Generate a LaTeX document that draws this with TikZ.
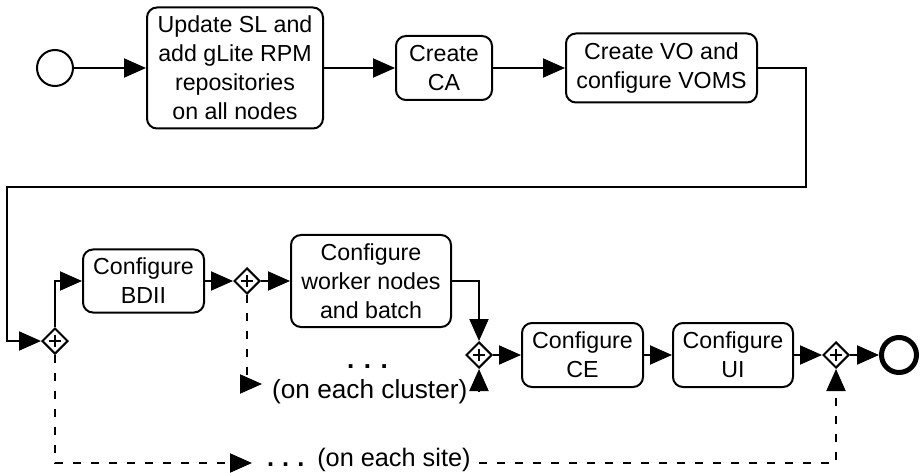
\documentclass[tikz,border=0pt]{standalone}
\usepackage{fontspec}
\setmainfont{Liberation Sans}
\usetikzlibrary{arrows.meta,shapes.geometric}

\tikzset{
  task/.style={draw, line width=2pt, rounded corners=10pt, align=center,
    inner sep=0pt, font=\fontsize{23.2}{29}\selectfont},
  gate/.style={draw, diamond, line width=2pt, minimum size=26pt, inner sep=0pt,
    path picture={\draw[line width=1.2pt]
      (path picture bounding box.center) ++(-6pt,0pt) -- ++(12pt,0pt)
      (path picture bounding box.center) ++(0pt,-6pt) -- ++(0pt,12pt);}},
  startev/.style={draw, circle, line width=2pt, minimum size=36pt, inner sep=0pt},
  endev/.style={draw, circle, line width=5pt, minimum size=35pt, inner sep=0pt},
  flow/.style={line width=2pt, -{Triangle[length=22pt,width=19pt]}},
  cond/.style={flow, dash pattern=on 8pt off 10pt},
  lbl/.style={inner sep=0pt},
}

\begin{document}
\begin{tikzpicture}[x=1pt,y=-1pt]
  \useasboundingbox (0,0) rectangle (921,473);

  % top row
  \node[startev] (start) at (55,68) {};
  \node[task, minimum width=176pt, minimum height=121pt] (upd) at (235,68)
    {Update SL and\\add gLite RPM\\repositories\\on all nodes};
  \node[task, minimum width=96pt, minimum height=64pt] (ca) at (444,68)
    {Create\\CA};
  \node[task, minimum width=191pt, minimum height=69pt] (voms) at (661.5,68)
    {Create VO and\\configure VOMS};

  % bottom row
  \node[gate] (g1) at (55,341) {};
  \node[task, minimum width=121pt, minimum height=63pt] (bdii) at (143.5,281)
    {Configure\\BDII};
  \node[gate] (g2) at (247,281) {};
  \node[task, minimum width=160pt, minimum height=92pt] (wn) at (371,281)
    {Configure\\worker nodes\\and batch};
  \node[gate] (g3) at (479,355) {};
  \node[task, minimum width=121pt, minimum height=64pt] (ce) at (582.5,355)
    {Configure\\CE};
  \node[task, minimum width=120pt, minimum height=64pt] (ui) at (733,355)
    {Configure\\UI};
  \node[gate] (g4) at (836,355) {};
  \node[endev] (stop) at (899,355) {};

  % labels of the repeated branches
  \node[lbl, font=\fontsize{26}{30}\bfseries] (cdots) at (367.5,367)
    {.\hspace{9.5pt}.\hspace{9.5pt}.};
  \node[lbl, anchor=west, font=\fontsize{26.2}{30}\selectfont] (clbl) at (272,392)
    {(on each cluster)};
  \node[lbl, anchor=west, font=\fontsize{25.3}{30}\selectfont] (slbl) at (267,460)
    {\textbf{.\hspace{8pt}.\hspace{8pt}.}\hspace{13pt}(on each site)};

  % turning points
  \coordinate (turnR) at (806,187);
  \coordinate (turnL) at (7,187);
  \coordinate (cout) at (262,384);
  \coordinate (cin) at (479,391);
  \coordinate (sout) at (252,463);

  % sequence flows
  \draw[flow] (start) -- (upd);
  \draw[flow] (upd) -- (ca);
  \draw[flow] (ca) -- (voms);
  \draw[flow] (voms.east) -| (turnR) -- (turnL) |- (g1.west);
  \draw[flow] (g1.north) |- (bdii.west);
  \draw[flow] (bdii) -- (g2);
  \draw[flow] (g2) -- (wn);
  \draw[flow] (wn.east) -| (g3.north);
  \draw[flow] (cin) -- (g3.south);
  \draw[flow] (g3) -- (ce);
  \draw[flow] (ce) -- (ui);
  \draw[flow] (ui) -- (g4);
  \draw[flow] (g4) -- (stop);

  % dashed branches
  \draw[cond] (g2.south) |- (cout);
  \draw[cond] (g1.south) |- (sout);
  \draw[cond] (slbl.east |- sout) ++(8pt,0pt) -| (g4.south);
\end{tikzpicture}
\end{document}
